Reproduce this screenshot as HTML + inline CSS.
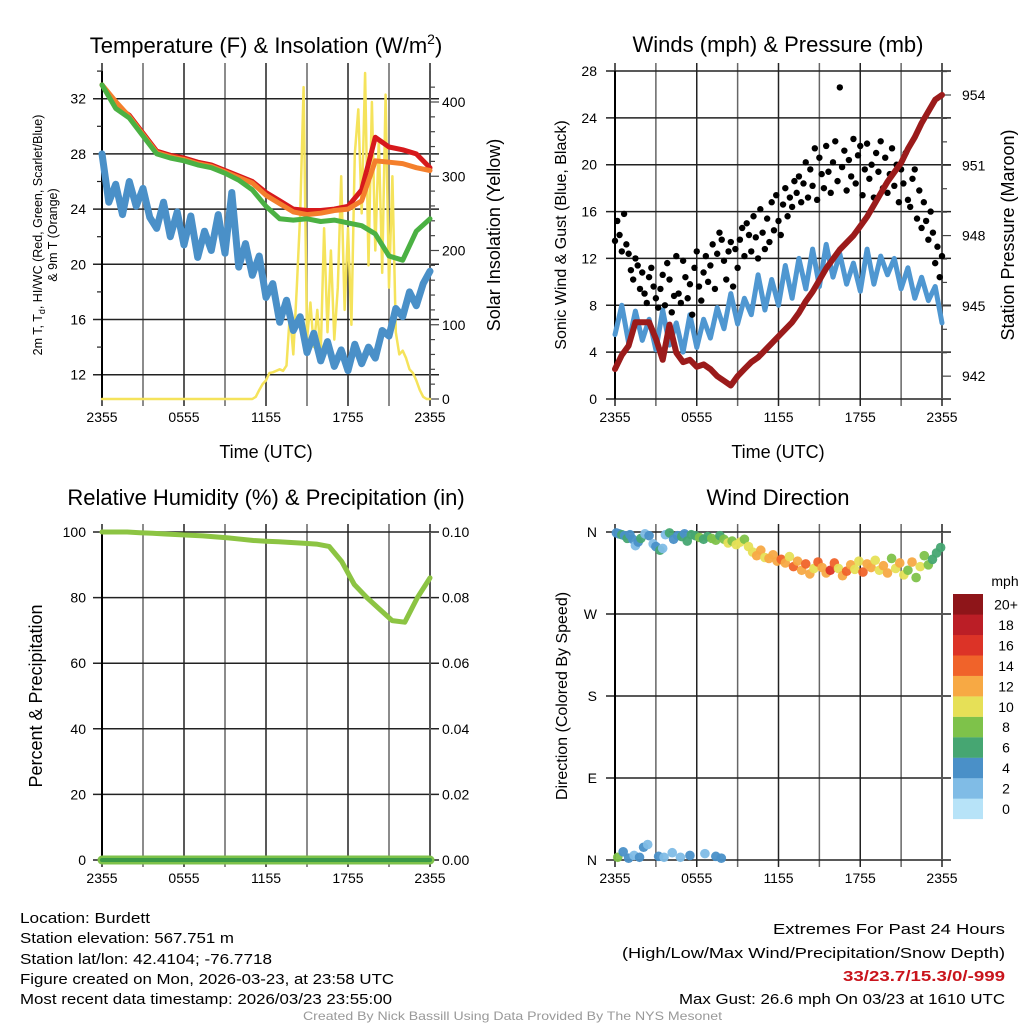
<!DOCTYPE html>
<html><head><meta charset="utf-8"><style>
html,body{margin:0;padding:0;background:#fff;}
svg{display:block;font-family:"Liberation Sans",Arial,sans-serif;}
</style></head><body>
<svg id="fig" width="1024" height="1024" viewBox="0 0 1024 1024" xmlns="http://www.w3.org/2000/svg"></svg>
<script>
// ---------- DATA ----------
const tempRed = [33,31.5,30.8,29.5,28.2,27.9,27.7,27.4,27.2,26.8,26.4,26.0,25.2,24.6,24.0,23.9,23.9,24.0,24.2,25.4,29.2,28.5,28.3,28.0,27.0];
const tempOrange = [33,31.8,30.7,29.4,28.1,27.8,27.6,27.3,27.1,26.7,26.3,25.9,25.0,24.4,23.8,23.6,23.7,23.9,24.0,24.6,27.5,27.4,27.3,27.0,26.8];
const tempGreen = [33,31.3,30.6,29.3,28.0,27.7,27.5,27.2,27.0,26.6,26.1,25.4,24.2,23.3,23.2,23.3,23.1,23.2,23.0,22.8,22.2,20.6,20.3,22.4,23.3];
const dewpoint = [28.0,24.5,25.8,23.6,26.0,24.2,25.5,23.4,22.6,24.5,22.0,23.8,21.4,23.5,20.5,22.4,21.0,23.6,20.8,25.2,19.8,21.5,19.2,20.6,17.6,18.6,15.8,17.4,15.2,16.2,13.6,15.0,13.0,14.4,12.6,13.8,12.3,14.2,12.8,14.0,13.2,15.2,14.8,16.8,16.2,18.0,17.0,18.6,19.5];
const solar = [0,0,0,0,0,0,0,0,0,0,0,0,0,0,0,0,0,0,0,0,0,0,0,0,0,0,0,0,0,0,0,0,0,0,0,0,0,0,0,0,0,0,0,0,
 0,3,12,20,25,35,36,38,40,38,45,115,60,150,250,420,80,130,70,120,60,230,90,200,80,150,300,120,230,100,330,390,250,439,180,400,200,350,170,410,150,300,90,60,65,55,40,35,25,12,3,0,0];
const windSpeed = [5.5,8.0,4.8,7.5,5.0,6.8,4.2,7.6,4.6,6.5,4.0,7.2,4.4,6.8,5.2,7.8,6.0,9.0,6.4,8.6,7.2,10.6,7.6,10.2,8.0,11.4,8.6,12.0,9.4,12.8,9.6,13.2,10.4,12.4,9.8,11.6,9.2,12.8,9.8,12.2,10.6,12.0,9.4,11.2,8.6,10.4,8.4,9.6,6.5];
const gust = [13.5,15.2,14.0,12.6,15.8,13.2,12.4,11.0,10.2,12.0,11.4,9.4,10.8,9.0,8.2,10.4,11.2,9.6,8.6,7.8,9.4,10.6,8.0,11.6,10.2,7.4,8.8,12.2,9.0,8.2,11.8,10.4,8.6,9.8,7.2,11.2,12.6,9.6,8.4,10.8,12.2,10.0,11.4,13.2,9.4,12.4,14.2,13.6,11.8,10.2,12.6,13.4,9.6,12.8,11.2,13.6,14.6,12.2,15.0,14.0,
 12.6,15.6,13.8,12.0,16.2,14.2,12.8,15.4,13.4,16.8,14.4,17.4,15.2,14.0,16.6,18.0,15.6,17.2,16.4,18.6,17.6,19.0,16.8,18.4,20.2,17.2,19.6,18.2,21.4,17.0,20.6,19.2,18.0,21.6,19.4,17.6,20.2,22.0,18.6,26.6,19.8,21.2,17.8,20.4,19.0,22.2,18.4,20.8,21.6,17.4,19.6,21.8,18.8,20.0,17.2,21.0,19.4,22.0,18.0,20.6,
 17.6,19.2,21.4,18.2,20.0,16.8,19.6,18.4,21.0,17.0,16.4,18.8,19.6,15.4,17.8,14.6,16.8,15.2,13.6,16.0,14.2,11.6,13.0,10.4,12.2];
const pressure = [942.3,942.9,943.3,944.3,944.3,944.3,943.6,942.7,944.2,943.0,942.6,942.7,942.4,942.5,942.3,942.0,941.8,941.6,942.0,942.3,942.6,942.8,943.1,943.4,943.7,944.0,944.3,944.7,945.2,945.6,946.1,946.6,947.0,947.4,947.7,948.0,948.4,948.8,949.3,949.8,950.3,950.7,951.1,951.7,952.2,952.8,953.3,953.8,954.0];
const rh = [100,100,100,99.8,99.6,99.4,99.2,99.0,98.8,98.5,98.2,97.8,97.4,97.2,97.0,96.8,96.6,96.3,95.6,91.0,84.0,80.0,76.5,73.0,72.5,80.0,86.0];
const precip = [0,0,0,0,0,0,0,0,0,0,0,0,0,0,0,0,0,0,0,0,0,0,0,0,0];
const dirHour = [0.1,0.3,0.5,0.7,0.9,1.1,1.3,1.5,1.7,1.9,2.2,2.5,2.8,3.0,3.3,3.5,3.7,4.0,4.3,4.6,4.9,5.1,5.3,5.6,5.9,6.2,6.5,6.8,7.1,7.4,7.7,8.0,8.3,8.6,8.9,9.2,9.5,9.8,10.1,10.4,10.7,11.0,11.3,11.6,11.9,12.2,12.5,12.8,13.1,13.4,13.7,14.0,14.3,14.6,14.9,15.2,15.5,15.8,16.1,16.4,16.7,17.0,17.3,17.6,17.9,18.2,18.5,18.8,19.1,19.4,19.7,20.0,20.3,20.6,20.9,21.2,21.5,21.8,22.1,22.4,22.7,23.0,23.3,23.6,23.9,
 0.2,0.6,1.0,1.4,1.8,2.1,2.4,3.2,3.6,4.2,4.8,5.5,6.6,7.4,7.8];
const dirDeg = [359,358,357,356,353,357,352,345,349,353,358,356,347,344,340,342,357,359,352,356,355,358,350,357,356,354,352,355,353,351,356,352,348,350,346,349,352,344,
 338,334,340,332,331,335,328,330,326,333,322,328,318,325,314,320,327,321,315,318,326,320,312,317,324,319,328,316,325,321,329,318,323,315,331,320,326,313,318,327,310,322,334,324,330,337,343,
 3,9,2,5,3,14,17,4,3,8,3,5,7,4,2];
const dirSpd = [5,5,6,4,7,4,4,3,4,6,3,4,3,4,6,3,3,6,5,4,6,5,6,6,7,8,6,7,9,8,7,8,10,9,10,11,9,11,10,12,13,11,13,12,12,14,12,10,15,13,12,14,13,11,15,12,13,16,14,11,12,15,13,11,10,14,12,13,11,10,13,12,9,11,12,10,9,12,8,10,8,9,7,7,6,
 8,4,5,3,4,4,3,4,3,3,3,5,3,5,4];

// ---------- DRAW HELPERS ----------
const NS='http://www.w3.org/2000/svg';
const svg=document.getElementById('fig');
function el(tag,attrs,parent){const e=document.createElementNS(NS,tag);for(const k in attrs)e.setAttribute(k,attrs[k]);(parent||svg).appendChild(e);return e;}
function txt(s,x,y,size,anchor,parent,extra){const t=el('text',Object.assign({x:x,y:y,'font-size':size,'text-anchor':anchor||'middle',fill:'#000'},extra||{}),parent);t.textContent=s;return t;}
const colors=['#b7e3f8','#80bce6','#4a90c8','#46a672','#7ec24a','#e6e057','#f7a944','#f0632a','#dc3327','#bb1e26','#8e1519'];
function spdColor(s){return colors[Math.min(10,Math.floor(s/2))];}

function panel(x0,x1,y0,y1){
  return {x0,x1,y0,y1,tx:h=>x0+h/24*(x1-x0)};
}
function drawGrid(g,P,hLines){
  el('rect',{x:P.x0,y:P.y0,width:P.x1-P.x0,height:P.y1-P.y0,fill:'#fff'},g);
  for(let h=0;h<=24;h+=3){const x=P.tx(h);
    el('line',{x1:x,y1:P.y0-8,x2:x,y2:P.y1+7,stroke:(h%6==0)?'#222':'#666','stroke-width':1.5},g);}
  hLines.forEach(y=>el('line',{x1:P.x0-9,y1:y,x2:P.x1+9,y2:y,stroke:'#222','stroke-width':1.5},g));
  el('line',{x1:P.x0,y1:P.y0,x2:P.x0,y2:P.y1,stroke:'#000','stroke-width':2},g);
  el('line',{x1:P.x1,y1:P.y0,x2:P.x1,y2:P.y1,stroke:'#555','stroke-width':2},g);
  ['2355','0555','1155','1755','2355'].forEach((s,i)=>{const t=txt(s,P.tx(i*6),P.y1+23,14,'middle',g);
    });
}
function polyline(g,vals,P,ty,color,w,name){
  const n=vals.length;const pts=vals.map((v,i)=>P.tx(i*24/(n-1)).toFixed(1)+','+ty(v).toFixed(1)).join(' ');
  const p=el('polyline',{points:pts,fill:'none',stroke:color,'stroke-width':w,'stroke-linejoin':'round','stroke-linecap':'round'},g);
  
  
  return p;
}

// ---------- PANEL 1 ----------
(function(){
  const g=el('g',{});
  
  
  const P=panel(102,430,71,399);
  const ty=v=>98.7+(32-v)*13.8;
  const sy=v=>399-v*0.7425;
  const yt=[32,28,24,20,16,12];
  drawGrid(g,P,yt.map(ty));
  for(let v=14;v<=34;v+=4){if(ty(v)>P.y0&&ty(v)<P.y1)el('line',{x1:P.x0-5,y1:ty(v),x2:P.x0,y2:ty(v),stroke:'#222','stroke-width':1.2},g);}
  yt.forEach(v=>{const t=txt(String(v),86,ty(v)+5,14,'end',g);});
  for(let v=0;v<=420;v+=20){const y=sy(v);el('line',{x1:P.x1,y1:y,x2:P.x1+(v%100==0?9:5),y2:y,stroke:'#444','stroke-width':1.2},g);}
  [0,100,200,300,400].forEach(v=>{const t=txt(String(v),442,sy(v)+5,14,'start',g);});
  polyline(g,solar,P,sy,'#f5e35b',2.5,'solar-line');
  polyline(g,dewpoint,P,ty,'#4a90c8',7,'dewpoint-line');
  polyline(g,tempRed,P,ty,'#d7191c',5,'temperature-line');
  polyline(g,tempOrange,P,ty,'#f47f2c',5,'temperature-9m-line');
  polyline(g,tempGreen,P,ty,'#4bb143',5,'heat-index-line');
  const t=el('text',{x:266,y:53,'font-size':22,'text-anchor':'middle'},g);
  t.innerHTML='Temperature (F) &amp; Insolation (W/m<tspan font-size="14" dy="-9">2</tspan><tspan dy="9">)</tspan>';
  
  const a=txt('Time (UTC)',266,458,18,'middle',g);
  const yl=el('text',{x:0,y:0,'font-size':12.5,'text-anchor':'middle',transform:'translate(42,235) rotate(-90)'},g);
  yl.innerHTML='2m T, T<tspan font-size="9" dy="3">d</tspan><tspan dy="-3">, HI/WC (Red, Green, Scarlet/Blue)</tspan>';
  
  const yl2=txt('& 9m T (Orange)',0,0,12.5,'middle',g,{transform:'translate(57,235) rotate(-90)'});
  
  const yr=txt('Solar Insolation (Yellow)',0,0,18,'middle',g,{transform:'translate(500,235) rotate(-90)'});
  
})();

// ---------- PANEL 2 ----------
(function(){
  const g=el('g',{});
  
  
  const P=panel(615,942,71,399);
  const wy=v=>399-v*11.714;
  const py=v=>95+(954-v)*23.43;
  const yt=[0,4,8,12,16,20,24,28];
  drawGrid(g,P,yt.map(wy));
  yt.forEach(v=>{const t=txt(String(v),597,wy(v)+5,14,'end',g);});
  for(let v=941;v<=955;v++){const y=py(v);if(y>P.y0&&y<P.y1)el('line',{x1:P.x1,y1:y,x2:P.x1+(v%3==0?9:5),y2:y,stroke:'#444','stroke-width':1.2},g);}
  [942,945,948,951,954].forEach(v=>{const t=txt(String(v),962,py(v)+5,14,'start',g);});
  polyline(g,windSpeed,P,wy,'#4f97d1',5,'wind-speed-line');
  const n=gust.length;
  gust.forEach((v,i)=>{const c=el('circle',{cx:P.tx(i*24/(n-1)),cy:wy(v),r:3.2,fill:'#000'},g);
    
    });
  polyline(g,pressure,P,py,'#9b1b1b',6,'pressure-line');
  const t=txt('Winds (mph) & Pressure (mb)',778,52,22,'middle',g);
  const a=txt('Time (UTC)',778,458,18,'middle',g);
  const yl=txt('Sonic Wind & Gust (Blue, Black)',0,0,16,'middle',g,{transform:'translate(566,235) rotate(-90)'});
  
  const yr=txt('Station Pressure (Maroon)',0,0,18,'middle',g,{transform:'translate(1014,235) rotate(-90)'});
  
})();

// ---------- PANEL 3 ----------
(function(){
  const g=el('g',{});
  
  
  const P=panel(102,430,532,860);
  const ry=v=>860-v*3.28;
  const qy=v=>860-v*3280;
  const yt=[0,20,40,60,80,100];
  drawGrid(g,P,yt.map(ry));
  yt.forEach(v=>{const t=txt(String(v),86,ry(v)+5,14,'end',g);});
  ['0.00','0.02','0.04','0.06','0.08','0.10'].forEach((s,i)=>{const t=txt(s,442,ry(i*20)+5,14,'start',g);});
  polyline(g,precip,P,qy,'#7ec24a',9,'precip-bar-line');
  polyline(g,precip,P,qy,'#3a9a46',4,'precip-line');
  polyline(g,rh,P,ry,'#8cc443',5,'rh-line');
  const t=txt('Relative Humidity (%) & Precipitation (in)',266,505,22,'middle',g);
  const yl=txt('Percent & Precipitation',0,0,18,'middle',g,{transform:'translate(42,696) rotate(-90)'});
  
})();

// ---------- PANEL 4 ----------
(function(){
  const g=el('g',{});
  
  
  const P=panel(615,942,532,860);
  const dy=v=>860-v/360*328;
  const yt=[0,90,180,270,360];
  drawGrid(g,P,yt.map(dy));
  ['N','E','S','W','N'].forEach((s,i)=>{const t=txt(s,597,dy(i*90)+5,14,'end',g);});
  dirHour.forEach((h,i)=>{const c=el('circle',{cx:P.tx(h),cy:dy(dirDeg[i]),r:4.8,fill:spdColor(dirSpd[i]),'fill-opacity':0.95},g);
    
    });
  const t=txt('Wind Direction',778,505,22,'middle',g);
  const yl=txt('Direction (Colored By Speed)',0,0,16,'middle',g,{transform:'translate(567,696) rotate(-90)'});
  
  const cb=el('g',{},g);
  
  
  const labels=['0','2','4','6','8','10','12','14','16','18','20+'];
  for(let i=0;i<11;i++){const y=594+(10-i)*20.45;
    const r=el('rect',{x:953,y:y,width:30,height:20.6,fill:colors[i]},cb);
    
    
    const l=txt(labels[i],1006,y+15.5,14,'middle',cb);
    
    }
  const m=txt('mph',1005,586,14,'middle',cb);
})();

// ---------- FOOTER TEXT ----------
(function(){
  const g=el('g',{});
  
  
  const L=[['Location: Burdett',923,130],['Station elevation: 567.751 m',943,214],['Station lat/lon: 42.4104; -76.7718',964,252],['Figure created on Mon, 2026-03-23, at 23:58 UTC',984,374],['Most recent data timestamp: 2026/03/23 23:55:00',1004,372]];
  L.forEach(a=>{const t=txt(a[0],20,a[1],15,'start',g,{textLength:a[2],lengthAdjust:'spacingAndGlyphs'});});
  const R=[['Extremes For Past 24 Hours',934,232,'#000',''],['(High/Low/Max Wind/Precipitation/Snow Depth)',958,383,'#000',''],['33/23.7/15.3/0/-999',981,162,'#c9141c','bold'],['Max Gust: 26.6 mph On 03/23 at 1610 UTC',1004,326,'#000','']];
  R.forEach(a=>{const t=txt(a[0],1005-a[2],a[1],15,'start',g,{textLength:a[2],lengthAdjust:'spacingAndGlyphs',fill:a[3],'font-weight':a[4]||'normal'});});
  const c=txt('Created By Nick Bassill Using Data Provided By The NYS Mesonet',303,1020,12,'start',g,{fill:'#999',textLength:419,lengthAdjust:'spacingAndGlyphs'});
  
})();
</script>
</body></html>
